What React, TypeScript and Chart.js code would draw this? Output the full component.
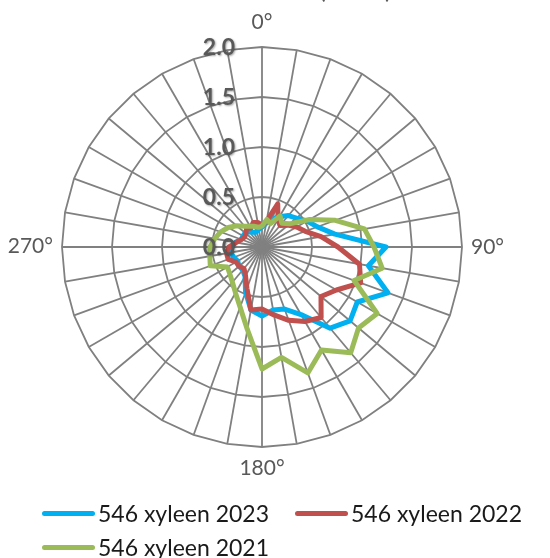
import React, { useEffect, useRef } from "react";
import { Chart, registerables } from "chart.js";

Chart.register(...registerables);

// Wind directions, every 10 degrees clockwise from north
const directions: string[] = Array.from({ length: 36 }, (_, i) => `${i * 10}°`);

// Concentration ratios per direction (0°, 10°, ..., 350°)
const xyleen2023: number[] = [
  0.20, 0.24, 0.30, 0.35, 0.41, 0.45, 0.52, 0.59, 0.74, 1.24, 1.08, 1.34,
  1.10, 1.15, 1.06, 0.78, 0.66, 0.64, 0.69, 0.64, 0.48, 0.34, 0.30, 0.30,
  0.28, 0.30, 0.32, 0.30, 0.27, 0.22, 0.22, 0.22, 0.20, 0.17, 0.16, 0.18,
];
const xyleen2022: number[] = [
  0.22, 0.26, 0.46, 0.32, 0.28, 0.34, 0.40, 0.46, 0.60, 0.76, 0.99, 1.05,
  0.86, 0.77, 0.92, 0.86, 0.78, 0.69, 0.62, 0.64, 0.44, 0.33, 0.28, 0.30,
  0.30, 0.36, 0.36, 0.33, 0.26, 0.22, 0.20, 0.21, 0.24, 0.22, 0.26, 0.25,
];
const xyleen2021: number[] = [
  0.21, 0.28, 0.25, 0.36, 0.31, 0.36, 0.55, 0.78, 1.04, 1.12, 1.22, 0.98,
  1.33, 1.26, 1.38, 1.19, 1.34, 1.12, 1.22, 0.84, 0.64, 0.53, 0.46, 0.42,
  0.40, 0.55, 0.53, 0.52, 0.48, 0.44, 0.39, 0.33, 0.27, 0.24, 0.22, 0.20,
];

const seriesNames: string[] = ["546 xyleen 2023", "546 xyleen 2022", "546 xyleen 2021"];
const seriesColors: string[] = ["#00B0F0", "#C0504D", "#9BBB59"];

const radialTicks: number[] = [0, 0.5, 1.0, 1.5, 2.0];
const titleText = "Relatieve concentratie (norm)";

const GRID = "#808080";
const LABEL = "#595959";

// Draws the compass labels (every 90°), the radial tick values and the title
const overlayPlugin = {
  id: "radarOverlay",
  afterDatasetsDraw(chart: any) {
    const scale = chart.scales.r;
    const ctx: CanvasRenderingContext2D = chart.ctx;
    const cx = scale.xCenter;
    const cy = scale.yCenter;
    const R = scale.drawingArea;

    ctx.save();
    // radial tick values, left of the north spoke
    ctx.font = "bold 23px Lato";
    ctx.fillStyle = LABEL;
    ctx.textAlign = "right";
    ctx.textBaseline = "middle";
    ctx.shadowColor = "rgba(0,0,0,0.35)";
    ctx.shadowBlur = 2;
    ctx.shadowOffsetX = 1;
    ctx.shadowOffsetY = 1;
    radialTicks.forEach((v) => {
      const d = scale.getDistanceFromCenterForValue(v);
      ctx.fillText(v.toFixed(1), cx - 27, cy - d + 1);
    });
    ctx.restore();

    ctx.save();
    ctx.font = "21px Lato";
    ctx.fillStyle = LABEL;
    ctx.textBaseline = "middle";
    directions.forEach((label, i) => {
      if (i % 9 !== 0) return;
      const q = i / 9;
      if (q === 0) {
        const p = scale.getPointPosition(i, R + 25);
        ctx.textAlign = "center";
        ctx.fillText(label, p.x, p.y);
      } else if (q === 1) {
        const p = scale.getPointPosition(i, R + 9);
        ctx.textAlign = "left";
        ctx.fillText(label, p.x, p.y);
      } else if (q === 2) {
        const p = scale.getPointPosition(i, R + 21);
        ctx.textAlign = "center";
        ctx.fillText(label, p.x, p.y);
      } else {
        const p = scale.getPointPosition(i, R + 9);
        ctx.textAlign = "right";
        ctx.fillText(label, p.x, p.y - 1);
      }
    });

    // chart title, largely above the top edge
    ctx.font = "26px Lato";
    ctx.fillStyle = LABEL;
    ctx.textAlign = "right";
    ctx.textBaseline = "alphabetic";
    ctx.fillText(titleText, 392, -2);
    ctx.restore();
  },
};

export default function App() {
  const canvasRef = useRef<HTMLCanvasElement | null>(null);

  useEffect(() => {
    if (!canvasRef.current) return;
    const seriesData = [xyleen2023, xyleen2022, xyleen2021];
    const chart = new Chart(canvasRef.current, {
      type: "radar",
      data: {
        labels: directions,
        datasets: seriesData.map((values, i) => ({
          label: seriesNames[i],
          data: values,
          borderColor: seriesColors[i],
          backgroundColor: seriesColors[i],
          borderWidth: 5,
          fill: false,
          pointRadius: 0,
          pointHoverRadius: 0,
          tension: 0,
          borderJoinStyle: "round" as const,
          order: 2 - i,
        })),
      },
      options: {
        responsive: false,
        animation: false,
        devicePixelRatio: 1,
        layout: { padding: { left: 62, top: 47, right: 88, bottom: 111 } },
        plugins: {
          legend: { display: false },
          tooltip: { enabled: false },
          title: { display: false },
        },
        scales: {
          r: {
            min: 0,
            max: 2,
            startAngle: 0,
            ticks: { display: false, stepSize: 0.5 },
            grid: { color: GRID, lineWidth: 1.8 },
            angleLines: { color: GRID, lineWidth: 1.8 },
            pointLabels: { display: false },
          },
        },
      },
      plugins: [overlayPlugin],
    });
    return () => chart.destroy();
  }, []);

  const legendRows = [
    [
      { i: 0, left: 42 },
      { i: 1, left: 295 },
    ],
    [{ i: 2, left: 42 }],
  ];
  const rowCenters = [513, 547];

  return (
    <div
      style={{
        position: "absolute",
        left: 0,
        top: 0,
        width: 550,
        height: 558,
        overflow: "hidden",
        background: "#ffffff",
      }}
    >
      <canvas
        ref={canvasRef}
        width={550}
        height={558}
        style={{ position: "absolute", left: 0, top: 0, width: 550, height: 558 }}
      />
      {legendRows.map((row, r) =>
        row.map((item) => (
          <div
            key={item.i}
            style={{
              position: "absolute",
              left: item.left,
              top: rowCenters[r] - 15,
              height: 30,
              display: "flex",
              alignItems: "center",
              whiteSpace: "nowrap",
              fontFamily: "Lato, sans-serif",
              fontSize: 23,
              color: "#1a1a1a",
            }}
          >
            <span
              style={{
                display: "inline-block",
                width: 53,
                height: 5,
                borderRadius: 3,
                background: seriesColors[item.i],
                marginRight: 3,
              }}
            />
            <span>{seriesNames[item.i]}</span>
          </div>
        ))
      )}
    </div>
  );
}
